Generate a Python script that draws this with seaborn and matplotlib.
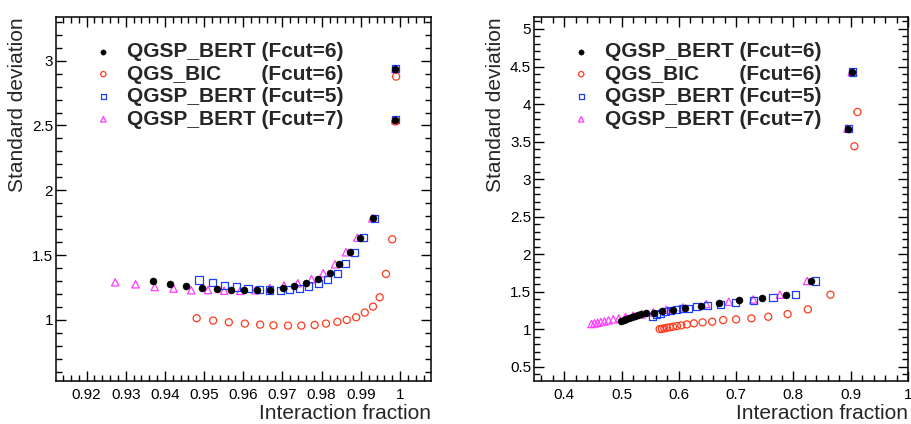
import numpy as np
import pandas as pd
import matplotlib
matplotlib.use("Agg")
import matplotlib.pyplot as plt
from matplotlib.ticker import MultipleLocator, FuncFormatter
import seaborn as sns

# ---------------- data ----------------
labels = ["QGSP_BERT (Fcut=6)", "QGS_BIC       (Fcut=6)",
          "QGSP_BERT (Fcut=5)", "QGSP_BERT (Fcut=7)"]

# left panel
L_bert6_x = [0.9369, 0.9412, 0.9454, 0.9494, 0.9533, 0.9569, 0.9603, 0.9636, 0.9669, 0.9701,
             0.9730, 0.9761, 0.9791, 0.9820, 0.9845, 0.9871, 0.9898, 0.9932, 0.9988, 0.9988]
L_bert6_y = [1.301, 1.280, 1.262, 1.249, 1.236, 1.231, 1.229, 1.229, 1.231, 1.247,
             1.265, 1.285, 1.316, 1.360, 1.432, 1.522, 1.635, 1.784, 2.542, 2.936]
L_bic_x = [0.9481, 0.9523, 0.9563, 0.9604, 0.9643, 0.9677, 0.9714, 0.9748, 0.9782, 0.9811,
           0.9840, 0.9864, 0.9888, 0.9910, 0.9931, 0.9948, 0.9964, 0.9980, 0.9988, 0.9990]
L_bic_y = [1.013, 0.995, 0.982, 0.972, 0.964, 0.959, 0.956, 0.956, 0.961, 0.972,
           0.985, 1.000, 1.021, 1.057, 1.103, 1.175, 1.355, 1.622, 2.530, 2.877]
L_bert5_x = [0.9487, 0.9521, 0.9551, 0.9582, 0.9612, 0.9641, 0.9668, 0.9694, 0.9717, 0.9743,
             0.9767, 0.9791, 0.9815, 0.9840, 0.9860, 0.9883, 0.9906, 0.9935, 0.9988, 0.9988]
L_bert5_y = [1.308, 1.290, 1.267, 1.254, 1.244, 1.237, 1.231, 1.229, 1.234, 1.244,
             1.262, 1.280, 1.314, 1.360, 1.432, 1.522, 1.635, 1.784, 2.548, 2.941]
L_bert7_x = [0.9273, 0.9325, 0.9374, 0.9422, 0.9467, 0.9510, 0.9551, 0.9592, 0.9631, 0.9668,
             0.9704, 0.9739, 0.9774, 0.9804, 0.9834, 0.9862, 0.9891, 0.9929, 0.9988, 0.9988]
L_bert7_y = [1.290, 1.275, 1.254, 1.242, 1.229, 1.231, 1.226, 1.224, 1.229, 1.247,
             1.265, 1.283, 1.314, 1.360, 1.429, 1.522, 1.635, 1.784, 2.542, 2.936]

# right panel
R_bert6_x = [0.4992, 0.5038, 0.5085, 0.5131, 0.5178, 0.5230, 0.5288, 0.5346, 0.5433, 0.5566,
             0.5705, 0.5903, 0.6111, 0.6384, 0.6703, 0.7057, 0.7457, 0.7869, 0.8298, 0.8948, 0.9023]
R_bert6_y = [1.113, 1.122, 1.135, 1.149, 1.162, 1.175, 1.189, 1.202, 1.211, 1.215,
             1.237, 1.255, 1.286, 1.313, 1.353, 1.384, 1.411, 1.460, 1.642, 3.672, 4.427]
R_bic_x = [0.5665, 0.5705, 0.5746, 0.5792, 0.5839, 0.5897, 0.5966, 0.6042, 0.6140, 0.6262, 0.6413,
           0.6581, 0.6773, 0.6999, 0.7266, 0.7561, 0.7898, 0.8252, 0.8646, 0.9064, 0.9116]
R_bic_y = [1.002, 1.006, 1.011, 1.020, 1.024, 1.033, 1.042, 1.051, 1.064, 1.078, 1.091,
           1.100, 1.122, 1.131, 1.144, 1.166, 1.202, 1.264, 1.460, 3.437, 3.894]
R_bert5_x = [0.5537, 0.5607, 0.5682, 0.5769, 0.5856, 0.5955, 0.6059, 0.6175, 0.6314, 0.6500,
             0.6732, 0.6987, 0.7300, 0.7643, 0.8041, 0.8379, 0.8954, 0.9029]
R_bert5_y = [1.175, 1.193, 1.211, 1.233, 1.246, 1.260, 1.273, 1.282, 1.300, 1.317,
             1.335, 1.362, 1.388, 1.420, 1.460, 1.642, 3.672, 4.427]
R_bert7_x = [0.4476, 0.4528, 0.4580, 0.4638, 0.4702, 0.4771, 0.4853, 0.4951, 0.5067, 0.5201, 0.5351,
             0.5549, 0.5781, 0.6071, 0.6477, 0.6871, 0.7300, 0.7764, 0.8240, 0.8942, 0.9017]
R_bert7_y = [1.069, 1.078, 1.086, 1.095, 1.104, 1.118, 1.131, 1.144, 1.162, 1.180, 1.197,
             1.224, 1.260, 1.291, 1.335, 1.366, 1.397, 1.460, 1.642, 3.672, 4.427]

x_label = "Interaction fraction"
y_label = "Standard deviation"

# ---------------- style ----------------
sns.set_theme(style="ticks")
plt.rcParams["font.family"] = ["Liberation Sans", "DejaVu Sans"]
plt.rcParams["axes.linewidth"] = 1.1

BLACK = "#000000"
RED = "#ff3a1c"
BLUE = "#1c3cff"
MAGENTA = "#ff3cff"

fig = plt.figure(figsize=(9.12, 4.24), dpi=100)
ax1 = fig.add_axes([0.0614, 0.1014, 0.4112, 0.8586])
ax2 = fig.add_axes([0.5855, 0.1014, 0.4101, 0.8586])

fmt = FuncFormatter(lambda v, p: f"{round(v, 6):g}")


def draw(ax, d7, d5, dbic, d6, xlim, ylim, xmaj, xmin):
    sns.scatterplot(x=d7[0], y=d7[1], ax=ax, marker="^", s=28, facecolor="none",
                    edgecolor=MAGENTA, linewidth=0.9, zorder=3)
    h7 = ax.collections[-1]
    sns.scatterplot(x=d5[0], y=d5[1], ax=ax, marker="s", s=26, facecolor="none",
                    edgecolor=BLUE, linewidth=0.9, zorder=4)
    h5 = ax.collections[-1]
    sns.scatterplot(x=dbic[0], y=dbic[1], ax=ax, marker="o", s=26, facecolor="none",
                    edgecolor=RED, linewidth=0.9, zorder=5)
    hb = ax.collections[-1]
    sns.scatterplot(x=d6[0], y=d6[1], ax=ax, marker="o", s=26, color=BLACK,
                    edgecolor=BLACK, linewidth=0.3, zorder=6)
    h6 = ax.collections[-1]
    ax.set_xlim(*xlim)
    ax.set_ylim(*ylim)
    ax.xaxis.set_major_locator(MultipleLocator(xmaj))
    ax.xaxis.set_minor_locator(MultipleLocator(xmin))
    ax.yaxis.set_major_locator(MultipleLocator(0.5))
    ax.yaxis.set_minor_locator(MultipleLocator(0.1))
    ax.xaxis.set_major_formatter(fmt)
    ax.yaxis.set_major_formatter(fmt)
    ax.tick_params(which="both", direction="in", top=True, right=True,
                   bottom=True, left=True, color="black", width=1.0,
                   labelsize=11, labelcolor="black")
    ax.tick_params(which="major", length=7.5)
    ax.tick_params(which="minor", length=4.2)
    ax.tick_params(axis="x", which="major", pad=5)
    ax.tick_params(axis="y", which="major", pad=2)
    for sp in ax.spines.values():
        sp.set_visible(True)
        sp.set_color("black")
        sp.set_linewidth(1.1)
    ax.set_xlabel(x_label, fontsize=15, ha="right", va="top")
    ax.xaxis.set_label_coords(1.0, -0.062)
    ax.set_ylabel(y_label, fontsize=15, loc="top")
    ax.yaxis.set_label_coords(-0.077, 1.0)
    leg = ax.legend([h6, hb, h5, h7], labels, loc="upper left",
                    bbox_to_anchor=(0.104, 0.931), frameon=False,
                    prop={"weight": "bold", "size": 15}, borderpad=0,
                    borderaxespad=0, handlelength=0.8, handletextpad=0.75,
                    labelspacing=0.17, markerscale=0.75)
    return leg


draw(ax1, (L_bert7_x, L_bert7_y), (L_bert5_x, L_bert5_y), (L_bic_x, L_bic_y),
     (L_bert6_x, L_bert6_y), (0.9122, 1.0079), (0.529, 3.337), 0.01, 0.002)
draw(ax2, (R_bert7_x, R_bert7_y), (R_bert5_x, R_bert5_y), (R_bic_x, R_bic_y),
     (R_bert6_x, R_bert6_y), (0.347, 1.0), (0.31, 5.16), 0.1, 0.02)

fig.savefig("out.png", dpi=100, facecolor="white")
